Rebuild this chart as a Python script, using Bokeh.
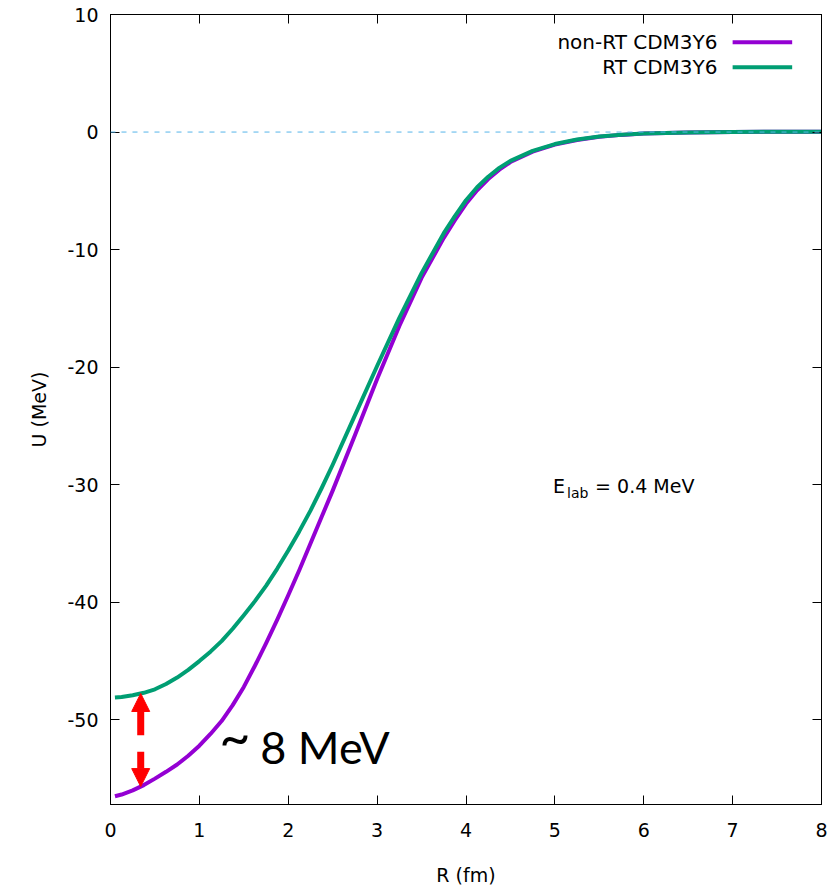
import numpy as np
from bokeh.plotting import figure
from bokeh.models import (Span, Arrow, NormalHead, FixedTicker, Range1d,
                          CustomJSTickFormatter, LinearAxis)
from bokeh.core.properties import value
from bokeh.embed import file_html
from bokeh.resources import INLINE

# Radial grid (fm) and folded potentials (MeV)
r_fm = [0.05, 0.125, 0.25, 0.375, 0.5, 0.625, 0.75, 0.875, 1.0, 1.125, 1.25,
        1.375, 1.5, 1.625, 1.75, 1.875, 2.0, 2.125, 2.25, 2.375, 2.5, 2.75,
        3.0, 3.25, 3.5, 3.75, 3.875, 4.0, 4.125, 4.25, 4.375, 4.5, 4.75, 5.0,
        5.25, 5.5, 5.75, 6.0, 6.5, 7.0, 7.5, 8.0]
u_nonrt = [-56.5, -56.35, -56.0, -55.55, -55.0, -54.42, -53.8, -53.05, -52.2,
           -51.2, -50.1, -48.75, -47.2, -45.4, -43.5, -41.5, -39.4, -37.25,
           -35.0, -32.75, -30.5, -25.8, -21.0, -16.5, -12.4, -9.0, -7.5, -6.1,
           -4.95, -4.0, -3.2, -2.55, -1.67, -1.07, -0.67, -0.4, -0.24, -0.13,
           -0.04, 0.01, 0.02, 0.02]
u_rt = [-48.1, -48.05, -47.9, -47.7, -47.4, -46.95, -46.4, -45.75, -45.0,
        -44.2, -43.3, -42.25, -41.1, -39.9, -38.6, -37.15, -35.6, -33.95,
        -32.2, -30.3, -28.3, -24.1, -19.9, -15.8, -12.0, -8.6, -7.15, -5.8,
        -4.7, -3.8, -3.05, -2.45, -1.6, -1.02, -0.63, -0.37, -0.22, -0.12,
        -0.03, 0.01, 0.02, 0.02]

series_labels = ["non-RT CDM3Y6", "RT CDM3Y6"]
series_colors = ["#9400d3", "#009e73"]
x_ticks = [0, 1, 2, 3, 4, 5, 6, 7, 8]
y_ticks = [-50, -40, -30, -20, -10, 0, 10]

# radius where the depth difference is marked
r_mark = 0.34

FONT = "DejaVu Sans"
X0, X1, Y0, Y1 = 0, 8, -57.2, 10
TICK_PX = 9

p = figure(width=827, height=888, output_backend="svg", toolbar_location=None,
           x_range=Range1d(X0, X1), y_range=Range1d(Y0, Y1),
           min_border_left=110, min_border_right=6, min_border_top=14,
           min_border_bottom=83)
p.background_fill_color = "white"
p.border_fill_color = "white"
p.outline_line_color = "black"
p.outline_line_width = 1
p.grid.visible = False

plain = CustomJSTickFormatter(code="return tick.toString();")


def tick_style(ax, ticks):
    ax.ticker = FixedTicker(ticks=ticks)
    ax.minor_tick_line_color = None
    ax.major_tick_in = TICK_PX
    ax.major_tick_out = 0
    ax.major_tick_line_color = "black"
    ax.axis_line_color = "black"


for ax, ticks in ((p.xaxis[0], x_ticks), (p.yaxis[0], y_ticks)):
    tick_style(ax, ticks)
    ax.formatter = plain
    ax.major_label_text_font = FONT
    ax.major_label_text_font_size = "19px"
    ax.major_label_text_color = "black"
    ax.axis_label_text_font = FONT
    ax.axis_label_text_font_size = "19px"
    ax.axis_label_text_font_style = "normal"
    ax.axis_label_text_color = "black"
p.xaxis[0].axis_label = "R (fm)"
p.yaxis[0].axis_label = "U (MeV)"
p.xaxis[0].major_label_standoff = 18
p.yaxis[0].major_label_standoff = 12
p.xaxis[0].axis_label_standoff = 24
p.yaxis[0].axis_label_standoff = 14

# mirrored tick marks on the top and right borders, without labels
for side, ticks in (("above", x_ticks), ("right", y_ticks)):
    mirror = LinearAxis()
    tick_style(mirror, ticks)
    mirror.major_label_text_color = None
    mirror.major_label_text_font_size = "1px"
    mirror.major_label_standoff = 0
    p.add_layout(mirror, side)

# potential curves
for u, col in zip([u_nonrt, u_rt], series_colors):
    p.line(r_fm, u, line_color=col, line_width=4, line_join="round")

# zero reference
p.add_layout(Span(location=0, dimension="width", line_color="#56b4e9",
                  line_width=1, line_dash="5 6"))

# legend: label on the left, sample on the right
leg_y = [7.65, 5.52]
p.text(x=[6.83, 6.83], y=leg_y, text=series_labels, text_align="right",
       text_baseline="middle", text_font=value(FONT), text_font_size="20px",
       text_color="black")
p.segment(x0=[7.0, 7.0], y0=leg_y, x1=[7.67, 7.67], y1=leg_y,
          line_color=series_colors, line_width=4)

# energy label with subscript
e_x, e_y = 4.98, -30.1
p.text(x=[e_x], y=[e_y], text=["E"], text_font=value(FONT),
       text_font_size="19px", text_baseline="middle", text_color="black")
p.text(x=[e_x], y=[e_y], text=["lab"], text_font=value(FONT),
       text_font_size="14px", text_baseline="middle", text_color="black",
       x_offset=14, y_offset=7)
p.text(x=[e_x], y=[e_y], text=["= 0.4 MeV"], text_font=value(FONT),
       text_font_size="19px", text_baseline="middle", text_color="black",
       x_offset=42)

# arrows marking the depth difference between the two potentials
u_top = float(np.interp(r_mark, r_fm, u_rt))
u_bot = float(np.interp(r_mark, r_fm, u_nonrt))
u_mid = 0.5 * (u_top + u_bot)
for y0, y1 in [(u_mid + 0.4, u_top), (u_mid - 1.0, u_bot)]:
    p.add_layout(Arrow(end=NormalHead(size=18, fill_color="red", line_color="red"),
                       x_start=r_mark, y_start=y0, x_end=r_mark, y_end=y1,
                       line_color="red", line_width=7))

p.text(x=[1.225], y=[-51.4], text=["~"], text_font=value("Lato"),
       text_font_size="54px", text_baseline="middle", text_color="black")
p.text(x=[1.685], y=[-52.34], text=["8 MeV"], text_font=value("Lato"),
       text_font_size="45px", text_baseline="middle", text_color="black")

open("out.html", "w").write(file_html(p, INLINE))
